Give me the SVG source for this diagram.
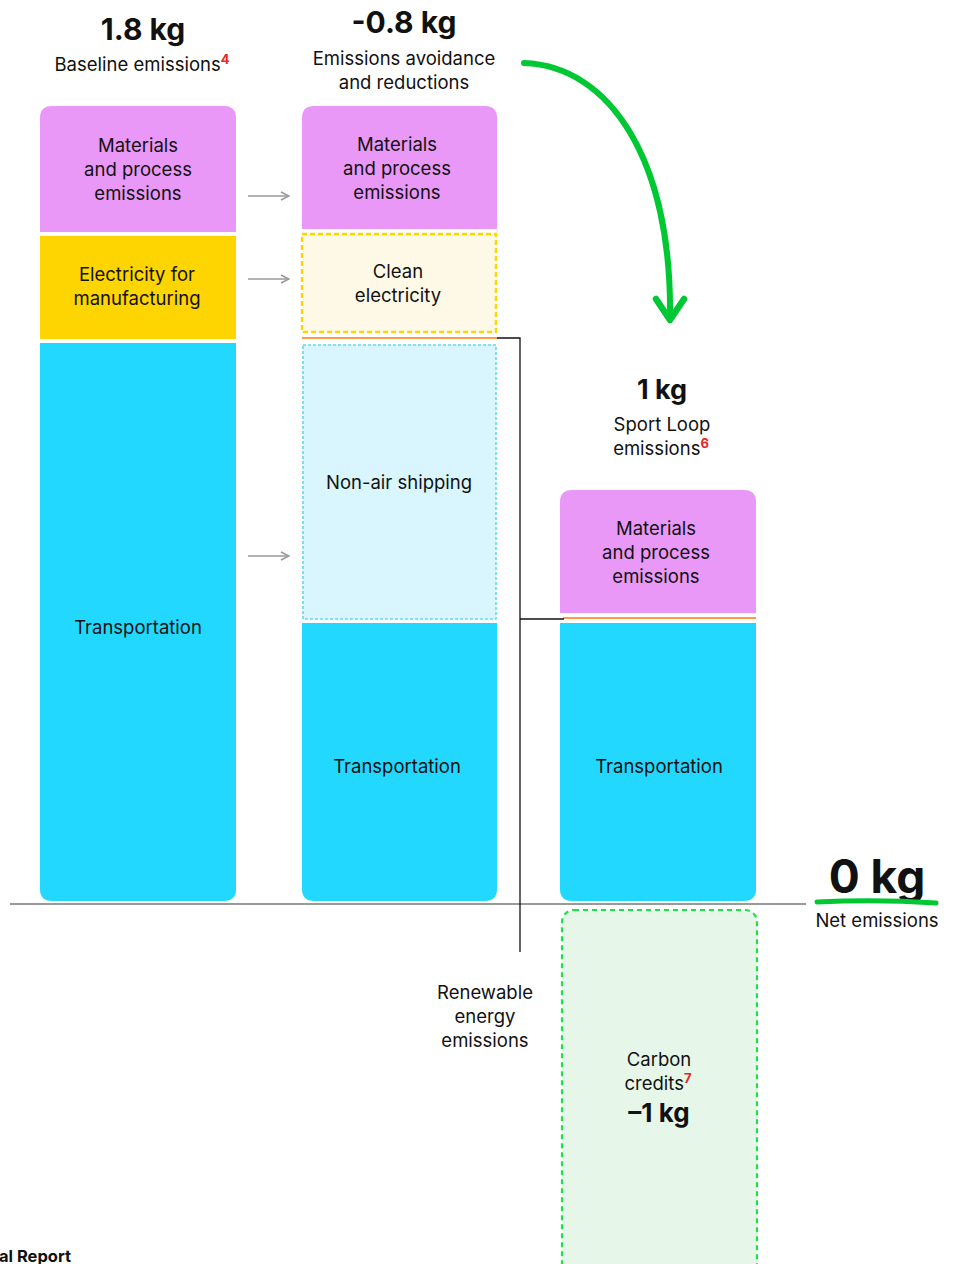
<svg xmlns="http://www.w3.org/2000/svg" width="956" height="1264" viewBox="0 0 956 1264">
<style>
text{font-family:Inter,"Noto Sans","Liberation Sans",sans-serif;fill:#111;text-anchor:middle}
.lbl{font-size:18.5px}
.big{font-size:30px;font-weight:700}
.sup{font-size:13px;fill:#e8261f;font-weight:700}
.pink{fill:#ea98f7}
.yel{fill:#fed500}
.cyan{fill:#22d8ff}
.garr{stroke:#999;stroke-width:1.6;fill:none}
</style>
<defs>
<marker id="ga" viewBox="0 0 10 10" refX="9" refY="5" markerWidth="10" markerHeight="10" markerUnits="userSpaceOnUse" orient="auto"><path d="M1 1L9 5L1 9" fill="none" stroke="#999" stroke-width="1.5"/></marker>
</defs>
<rect width="956" height="1264" fill="#fff"/>

<g id="col1-header">
<text class="big" x="143" y="40">1.8 kg</text>
<text class="lbl" x="142" y="71">Baseline emissions<tspan class="sup" dy="-7">4</tspan></text>
</g>
<g id="col2-header">
<text class="big" x="404" y="33">-0.8 kg</text>
<text class="lbl" x="404" y="65">Emissions avoidance</text>
<text class="lbl" x="404" y="89">and reductions</text>
</g>
<g id="col3-header">
<text class="big" x="662" y="399" style="font-size:27px">1 kg</text>
<text class="lbl" x="662" y="431">Sport Loop</text>
<text class="lbl" x="661" y="455">emissions<tspan class="sup" dy="-7">6</tspan></text>
</g>

<g id="c1-materials">
<path class="pink" d="M40 232V118Q40 106 52 106H224Q236 106 236 118V232Z"/>
<text class="lbl" x="138" y="152">Materials</text>
<text class="lbl" x="138" y="176">and process</text>
<text class="lbl" x="138" y="200">emissions</text>
</g>
<g id="c1-electricity">
<rect class="yel" x="40" y="236" width="196" height="103"/>
<text class="lbl" x="137" y="281">Electricity for</text>
<text class="lbl" x="137" y="305">manufacturing</text>
</g>
<g id="c1-transport">
<path class="cyan" d="M40 343H236V889Q236 901 224 901H52Q40 901 40 889Z"/>
<text class="lbl" x="138" y="634">Transportation</text>
</g>

<g id="c2-materials">
<path class="pink" d="M302 229V118Q302 106 314 106H485Q497 106 497 118V229Z"/>
<text class="lbl" x="397" y="151">Materials</text>
<text class="lbl" x="397" y="175">and process</text>
<text class="lbl" x="397" y="199">emissions</text>
</g>
<g id="c2-clean">
<rect x="302" y="234" width="194" height="98" fill="#fef8e6" stroke="#fed500" stroke-width="2.4" stroke-dasharray="5 3"/>
<text class="lbl" x="398" y="278">Clean</text>
<text class="lbl" x="398" y="302">electricity</text>
</g>
<line x1="302" y1="338" x2="497" y2="338" stroke="#ff9a4a" stroke-width="2"/>
<g id="c2-nonair">
<rect x="303" y="345" width="193" height="274" fill="#d9f6fe" stroke="#5fd9f5" stroke-width="1.6" stroke-dasharray="3 2"/>
<text class="lbl" x="399" y="489">Non-air shipping</text>
</g>
<g id="c2-transport">
<path class="cyan" d="M302 623H497V889Q497 901 485 901H314Q302 901 302 889Z"/>
<text class="lbl" x="397" y="773">Transportation</text>
</g>

<g id="c3-materials">
<path class="pink" d="M560 613V502Q560 490 572 490H744Q756 490 756 502V613Z"/>
<text class="lbl" x="656" y="535">Materials</text>
<text class="lbl" x="656" y="559">and process</text>
<text class="lbl" x="656" y="583">emissions</text>
</g>
<line x1="563" y1="618" x2="756" y2="618" stroke="#ff9a4a" stroke-width="2"/>
<g id="c3-transport">
<path class="cyan" d="M560 623H756V889Q756 901 744 901H572Q560 901 560 889Z"/>
<text class="lbl" x="659" y="773">Transportation</text>
</g>

<g id="carbon">
<rect x="562" y="910" width="195" height="370" rx="12" fill="#e6f7e9" stroke="#1ee04a" stroke-width="2.2" stroke-dasharray="5 4"/>
<text class="lbl" x="659" y="1066">Carbon</text>
<text class="lbl" x="658" y="1090">credits<tspan class="sup" dy="-7">7</tspan></text>
<text x="659" y="1122" style="font-size:26px;font-weight:700">–1 kg</text>
</g>

<g id="renewable-label">
<text class="lbl" x="485" y="999">Renewable</text>
<text class="lbl" x="485" y="1023">energy</text>
<text class="lbl" x="485" y="1047">emissions</text>
</g>

<g id="net">
<text x="877" y="893" style="font-size:46px;font-weight:700">0 kg</text>
<path d="M817 902Q877 899 936 903" stroke="#00c832" stroke-width="5" stroke-linecap="round" fill="none"/>
<text class="lbl" x="877" y="927">Net emissions</text>
</g>

<g id="connectors">
<line x1="10" y1="904" x2="806" y2="904" stroke="#999" stroke-width="2"/>
<line class="garr" x1="248" y1="196" x2="289" y2="196" marker-end="url(#ga)"/>
<line class="garr" x1="248" y1="279" x2="289" y2="279" marker-end="url(#ga)"/>
<line class="garr" x1="248" y1="556" x2="289" y2="556" marker-end="url(#ga)"/>
<path d="M497 338H520V952" fill="none" stroke="#111" stroke-width="1.3"/>
<line x1="520" y1="619" x2="564" y2="619" stroke="#111" stroke-width="1.3"/>
<path d="M524 63C610 66 672 160 670 318" fill="none" stroke="#00c832" stroke-width="6" stroke-linecap="round"/>
<path d="M656 299L670 320L684 299" fill="none" stroke="#00c832" stroke-width="6.5" stroke-linecap="round" stroke-linejoin="round"/>
</g>

<text x="-1" y="1262" style="font-size:16.5px;font-weight:700;text-anchor:start">al Report</text>
</svg>
